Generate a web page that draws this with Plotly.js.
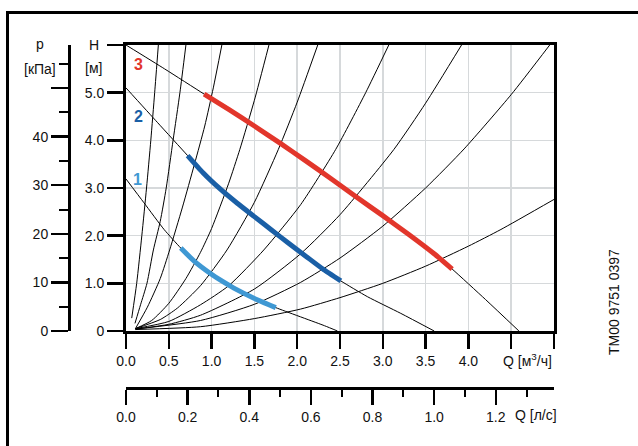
<!DOCTYPE html>
<html>
<head>
<meta charset="utf-8">
<script src="https://cdn.plot.ly/plotly-3.0.1.min.js"></script>
<style>html,body{margin:0;padding:0;background:#fff;}#chart{width:638px;height:446px;}</style>
</head>
<body>
<div id="chart"></div>
<script>
// ---- Axis ticks ----
const qTickVals = [0, 0.5, 1.0, 1.5, 2.0, 2.5, 3.0, 3.5, 4.0, 4.5, 5.0];
const qTickText = ['0.0', '0.5', '1.0', '1.5', '2.0', '2.5', '3.0', '3.5', '4.0', ' ', ' '];
const hTickVals = [0, 1, 2, 3, 4, 5, 6];
const hTickText = ['0', '1.0', '2.0', '3.0', '4.0', '5.0', ' '];
const pTickVals = [0, 10, 20, 30, 40, 50];
const pTickText = ['0', '10', '20', '30', '40', ' '];
const pMinorVals = [5, 15, 25, 35, 45, 55];
const lsTickVals = [0, 0.2, 0.4, 0.6, 0.8, 1.0, 1.2];
const lsTickText = ['0.0', '0.2', '0.4', '0.6', '0.8', '1.0', '1.2'];
const lsMinorVals = [0.1, 0.3, 0.5, 0.7, 0.9, 1.1, 1.3];

// ---- Pump curves (Q m3/h, H m) ----
const pump1Q = [0, 0.21, 0.445, 0.64, 0.8, 0.99, 1.1, 1.26, 1.54, 1.75, 2.32, 2.47];
const pump1H = [3.19, 2.69, 2.13, 1.74, 1.46, 1.20, 1.07, 0.90, 0.65, 0.49, 0.11, 0];
const pump1Thick = [0.64, 1.75];
const pump2Q = [0, 0.37, 0.72, 0.9, 1.1, 1.3, 1.5, 1.7, 1.9, 2.1, 2.3, 2.51, 2.82, 3.21, 3.6];
const pump2H = [5.1, 4.37, 3.68, 3.32, 2.98, 2.68, 2.40, 2.12, 1.84, 1.57, 1.30, 1.05, 0.72, 0.37, 0];
const pump2Thick = [0.72, 2.51];
const pump3Q = [0, 0.45, 0.913, 1.2, 1.5, 1.8, 2.1, 2.4, 2.7, 3.0, 3.3, 3.6, 3.81, 4.2, 4.59];
const pump3H = [6.0, 5.5, 4.97, 4.65, 4.30, 3.94, 3.57, 3.19, 2.80, 2.42, 2.03, 1.62, 1.30, 0.66, 0];
const pump3Thick = [0.913, 3.81];

// ---- System curves ----
const sysA_Q = [0.067, 0.125, 0.185, 0.24, 0.29, 0.335, 0.378];
const sysA_H = [0.27, 1.0, 2.0, 3.0, 4.0, 5.0, 6.0];
const sysB_Q = [0.105, 0.17, 0.245, 0.32, 0.40, 0.47, 0.55, 0.63, 0.70];
const sysB_H = [0.16, 0.55, 1.0, 1.7, 2.3, 3.0, 4.0, 5.0, 6.0];
const sysC_Q = [0.11, 0.25, 0.40, 0.51, 0.66, 0.80, 0.92, 1.02, 1.12];
const sysC_H = [0.05, 0.5, 1.1, 1.7, 2.6, 3.5, 4.3, 5.1, 6.0];
const sysD_Q = [0.11, 0.3, 0.5, 0.7, 0.87, 1.0, 1.2, 1.33, 1.5, 1.67];
const sysD_H = [0.05, 0.22, 0.58, 1.1, 1.65, 2.15, 3.1, 3.81, 4.84, 6.0];
const sysE_Q = [0.11, 0.4, 0.6, 0.87, 1.18, 1.5, 1.78, 2.0, 2.24];
const sysE_H = [0.05, 0.24, 0.48, 0.95, 1.7, 2.7, 3.81, 4.8, 6.0];
const sysF_Q = [0.11, 0.5, 0.87, 1.2, 1.61, 2.04, 2.45, 2.8, 3.07];
const sysF_H = [0.05, 0.2, 0.55, 0.95, 1.7, 2.65, 3.81, 5.0, 6.0];
const sysG_Q = [0.11, 0.5, 0.87, 1.5, 2.04, 2.5, 3.13, 3.5, 3.92];
const sysG_H = [0.04, 0.14, 0.33, 0.88, 1.62, 2.44, 3.81, 4.78, 6.0];
const sysH_Q = [0.11, 0.87, 1.5, 2.04, 2.5, 3.0, 3.5, 3.95, 4.5, 4.95];
const sysH_H = [0.04, 0.22, 0.56, 1.02, 1.53, 2.2, 3.0, 3.82, 4.96, 6.0];
const sysI_Q = [0.11, 0.87, 1.5, 2.04, 2.5, 3.0, 3.5, 4.0, 4.38, 5.0];
const sysI_H = [0.03, 0.09, 0.26, 0.46, 0.7, 1.0, 1.36, 1.78, 2.13, 2.76];

const curveLabels = ['1', '2', '3'];
const labelQ = [0.14, 0.145, 0.145];
const labelH = [3.18, 4.51, 5.6];

const RED = '#e2362b', BLUE = '#1a5fa6', LBLUE = '#3f98d3';
const labelColors = [LBLUE, BLUE, RED];

const thin = (x, y) => ({x, y, type: 'scatter', mode: 'lines', xaxis: 'x', yaxis: 'y',
  line: {color: '#000', width: 1, shape: 'spline', smoothing: 0.6}, hoverinfo: 'skip'});
function thick(q, h, range, color) {
  const x = [], y = [];
  q.forEach((v, i) => { if (v >= range[0] - 1e-9 && v <= range[1] + 1e-9) { x.push(v); y.push(h[i]); } });
  return {x, y, type: 'scatter', mode: 'lines', xaxis: 'x', yaxis: 'y',
    line: {color, width: 5, shape: 'spline', smoothing: 0.5}, hoverinfo: 'skip'};
}

const traces = [
  thin(sysA_Q, sysA_H), thin(sysB_Q, sysB_H), thin(sysC_Q, sysC_H), thin(sysD_Q, sysD_H),
  thin(sysE_Q, sysE_H), thin(sysF_Q, sysF_H), thin(sysG_Q, sysG_H), thin(sysH_Q, sysH_H),
  thin(sysI_Q, sysI_H),
  thin(pump1Q, pump1H), thin(pump2Q, pump2H), thin(pump3Q, pump3H),
  thick(pump1Q, pump1H, pump1Thick, LBLUE),
  thick(pump2Q, pump2H, pump2Thick, BLUE),
  thick(pump3Q, pump3H, pump3Thick, RED),
  {x: [0], y: [0], xaxis: 'x3', yaxis: 'y', type: 'scatter', mode: 'markers', marker: {opacity: 0}, hoverinfo: 'skip'},
  {x: [0], y: [0], xaxis: 'x', yaxis: 'y2', type: 'scatter', mode: 'markers', marker: {opacity: 0}, hoverinfo: 'skip'}
];

const FONT = 'Liberation Sans, Arial, Helvetica, sans-serif';
const TF = {family: FONT, size: 14, color: '#111'};
const axisCommon = {showline: true, linecolor: '#000', linewidth: 3, ticks: 'outside', tickcolor: '#000',
  tickwidth: 2.5, zeroline: false, fixedrange: true, tickfont: TF};

const annotations = [
  {text: 'H', xref: 'paper', yref: 'paper', x: 0.0515, y: 1.0, showarrow: false, xanchor: 'center', yanchor: 'middle', font: TF},
  {text: '[м]', xref: 'paper', yref: 'paper', x: 0.0495, y: 0.933, showarrow: false, xanchor: 'center', yanchor: 'middle', font: TF},
  {text: 'p', xref: 'paper', yref: 'paper', x: -0.0598, y: 1.003, showarrow: false, xanchor: 'center', yanchor: 'middle', font: TF},
  {text: '[кПа]', xref: 'paper', yref: 'paper', x: -0.0598, y: 0.93, showarrow: false, xanchor: 'center', yanchor: 'middle', font: TF},
  {text: 'Q [м<sup>3</sup>/ч]', xref: 'paper', yref: 'paper', x: 1.0, y: 0.0816, showarrow: false, xanchor: 'right', yanchor: 'middle', font: TF},
  {text: 'Q [л/с]', xref: 'paper', yref: 'paper', x: 0.9155, y: -0.0787, showarrow: false, xanchor: 'left', yanchor: 'middle', font: TF},
  {text: 'TM00 9751 0397', xref: 'paper', yref: 'paper', x: 1.1237, y: 0.2507, textangle: -90, showarrow: false, xanchor: 'center', yanchor: 'middle', font: {family: FONT, size: 14, color: '#111'}}
];
curveLabels.forEach((t, i) => annotations.push({text: '<b>' + t + '</b>', xref: 'x', yref: 'y', x: labelQ[i], y: labelH[i],
  showarrow: false, xanchor: 'center', yanchor: 'middle', font: {family: FONT, size: 16, color: labelColors[i]}}));

const layout = {
  width: 638, height: 446,
  margin: {l: 69, r: 84, t: 45, b: 58, pad: 0},
  paper_bgcolor: '#fff', plot_bgcolor: '#fff',
  showlegend: false,
  font: TF,
  xaxis: Object.assign({}, axisCommon, {domain: [0.1175, 1], range: [0, 5], anchor: 'y',
    tickmode: 'array', tickvals: qTickVals, ticktext: qTickText, ticklen: 15, mirror: true,
    showgrid: true, gridcolor: '#d6d9db', gridwidth: 1.5}),
  yaxis: Object.assign({}, axisCommon, {domain: [0.1662, 1], range: [0, 6], anchor: 'x',
    tickmode: 'array', tickvals: hTickVals, ticktext: hTickText, ticklen: 16, mirror: true,
    showgrid: true, gridcolor: '#d6d9db', gridwidth: 1.5}),
  yaxis2: Object.assign({}, axisCommon, {overlaying: 'y', anchor: 'free', position: 0, side: 'left',
    range: [0, 58.86], tickmode: 'array', tickvals: pTickVals, ticktext: pTickText, ticklen: 17, showgrid: false,
    minor: {tickmode: 'array', tickvals: pMinorVals, ticks: 'outside', ticklen: 9, tickwidth: 2, tickcolor: '#000', showgrid: false}}),
  xaxis3: Object.assign({}, axisCommon, {overlaying: 'x', anchor: 'free', position: 0, side: 'bottom',
    range: [0, 5 / 3.6], tickmode: 'array', tickvals: lsTickVals, ticktext: lsTickText, ticklen: 15, showgrid: false,
    minor: {tickmode: 'array', tickvals: lsMinorVals, ticks: 'outside', ticklen: 7, tickwidth: 2, tickcolor: '#000', showgrid: false}}),
  shapes: [
    {type: 'rect', xref: 'paper', yref: 'paper', x0: -0.1268, x1: 1.3, y0: -0.3, y1: 1.0948, line: {color: '#000', width: 3}, fillcolor: 'rgba(0,0,0,0)', layer: 'above'}
  ],
  annotations
};

Plotly.newPlot('chart', traces, layout, {staticPlot: true, displayModeBar: false});
</script>
</body>
</html>
